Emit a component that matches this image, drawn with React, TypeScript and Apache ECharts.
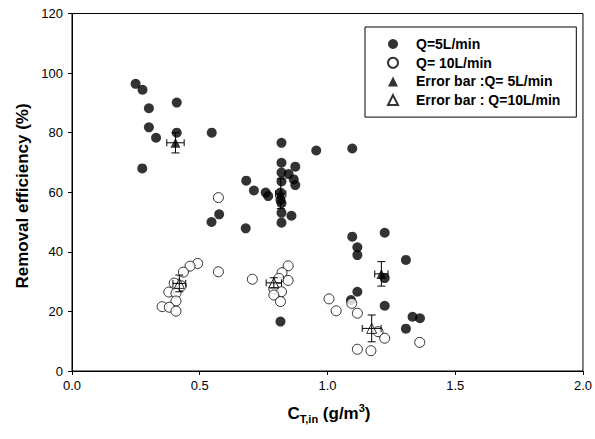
import React, { useEffect, useRef } from "react";
import * as echarts from "echarts";

// Q = 5 L/min (filled circles): [C_T,in (g/m3), removal efficiency (%)]
const q5Points: number[][] = [
  [0.249, 96.4], [0.276, 94.4], [0.301, 88.2], [0.41, 90.1], [0.301, 81.8],
  [0.41, 80.0], [0.329, 78.3], [0.547, 80.0], [0.275, 68.0], [0.682, 63.9],
  [0.576, 52.6], [0.546, 50.0], [0.68, 47.9],
  [0.82, 76.6], [0.956, 74.0], [1.097, 74.7], [0.82, 69.9], [0.874, 68.6],
  [0.82, 66.6], [0.848, 66.1], [0.868, 64.3], [0.874, 62.4], [0.82, 63.6],
  [0.712, 60.6], [0.758, 59.9], [0.768, 58.7], [0.816, 59.9], [0.816, 57.4],
  [0.82, 56.3], [0.82, 53.1], [0.859, 52.1], [0.82, 49.8],
  [1.097, 45.1], [1.117, 41.5], [1.117, 38.9], [1.224, 46.4], [0.816, 16.6],
  [1.092, 23.8], [1.117, 26.6], [1.224, 31.2], [1.224, 21.9], [1.307, 37.3],
  [1.333, 18.2], [1.362, 17.7], [1.307, 14.2],
];

// Q = 10 L/min (open circles)
const q10Points: number[][] = [
  [0.573, 58.2], [0.492, 36.1], [0.462, 35.2], [0.436, 33.2], [0.573, 33.3],
  [0.4, 29.5], [0.428, 28.6], [0.379, 26.5], [0.407, 26.1], [0.407, 23.5],
  [0.353, 21.6], [0.381, 21.4], [0.407, 20.1],
  [0.846, 35.3], [0.822, 33.0], [0.706, 30.8], [0.81, 31.1], [0.846, 30.4],
  [0.79, 27.6], [0.82, 26.6], [0.79, 25.5], [0.816, 23.3],
  [1.006, 24.2], [1.034, 20.2], [1.095, 22.7], [1.117, 19.4], [1.198, 13.2],
  [1.224, 11.0], [1.117, 7.3], [1.17, 6.8], [1.361, 9.6],
];

// Error bars: [x mean, y mean, x error, y error]
const errBar5: number[][] = [
  [0.405, 76.6, 0.034, 3.4],
  [0.817, 59.5, 0.02, 5.0],
  [1.211, 32.6, 0.026, 4.1],
];
const errBar10: number[][] = [
  [0.42, 29.4, 0.025, 2.8],
  [0.79, 29.6, 0.03, 1.7],
  [1.173, 14.3, 0.037, 4.5],
];

const xTicks = { min: 0, max: 2, interval: 0.5 };
const yTicks = { min: 0, max: 120, interval: 20 };

const legendNames = [
  "Q=5L/min",
  "Q= 10L/min",
  "Error bar :Q= 5L/min",
  "Error bar : Q=10L/min",
];

const FONT = "'Liberation Sans', Arial, sans-serif";

function errRender(params: any, api: any) {
  const x = api.value(0);
  const y = api.value(1);
  const xe = api.value(2);
  const ye = api.value(3);
  const top = api.coord([x, y + ye]);
  const bot = api.coord([x, y - ye]);
  const l = api.coord([x - xe, y]);
  const r = api.coord([x + xe, y]);
  const style = { stroke: "#000", lineWidth: 1 };
  const cw = 4;
  const ch = 3.5;
  return {
    type: "group",
    children: [
      { type: "line", shape: { x1: top[0], y1: top[1], x2: bot[0], y2: bot[1] }, style },
      { type: "line", shape: { x1: top[0] - cw, y1: top[1], x2: top[0] + cw, y2: top[1] }, style },
      { type: "line", shape: { x1: bot[0] - cw, y1: bot[1], x2: bot[0] + cw, y2: bot[1] }, style },
      { type: "line", shape: { x1: l[0], y1: l[1], x2: r[0], y2: r[1] }, style },
      { type: "line", shape: { x1: l[0], y1: l[1] - ch, x2: l[0], y2: l[1] + ch }, style },
      { type: "line", shape: { x1: r[0], y1: r[1] - ch, x2: r[0], y2: r[1] + ch }, style },
    ],
  };
}

export default function App() {
  const ref = useRef<HTMLDivElement>(null);
  useEffect(() => {
    if (!ref.current) return;
    const chart = echarts.init(ref.current, null, { renderer: "svg" });
    chart.setOption({
      animation: false,
      backgroundColor: "#fff",
      grid: {
        left: 72,
        right: 10,
        top: 13.5,
        bottom: 68,
        show: true,
        borderColor: "#000",
        borderWidth: 1,
      },
      xAxis: {
        type: "value",
        min: xTicks.min,
        max: xTicks.max,
        interval: xTicks.interval,
        splitLine: { show: false },
        axisLine: { show: true, onZero: false, lineStyle: { color: "#000", width: 1 } },
        axisTick: { show: true, inside: false, length: 4, lineStyle: { color: "#000" } },
        axisLabel: {
          color: "#000",
          fontSize: 13,
          fontFamily: FONT,
          margin: 8,
          formatter: (v: number) => v.toFixed(1),
        },
      },
      yAxis: {
        type: "value",
        min: yTicks.min,
        max: yTicks.max,
        interval: yTicks.interval,
        splitLine: { show: false },
        axisLine: { show: true, onZero: false, lineStyle: { color: "#000", width: 1 } },
        axisTick: { show: true, inside: false, length: 4, lineStyle: { color: "#000" } },
        axisLabel: { color: "#000", fontSize: 13, fontFamily: FONT, margin: 9 },
      },
      legend: {
        orient: "vertical",
        left: 365,
        top: 27,
        padding: [10, 16, 10, 22],
        itemGap: 4.7,
        itemWidth: 10,
        itemHeight: 10,
        borderColor: "#000",
        borderWidth: 1,
        backgroundColor: "#fff",
        selectedMode: false,
        textStyle: {
          color: "#000",
          fontSize: 14,
          fontWeight: "bold",
          fontFamily: FONT,
          lineHeight: 14,
          padding: [0, 0, 0, 13],
        },
        data: legendNames,
      },
      graphic: [
        {
          type: "text",
          x: 22,
          y: 196,
          rotation: Math.PI / 2,
          style: {
            text: "Removal efficiency (%)",
            fontSize: 17,
            fontWeight: "bold",
            fontFamily: FONT,
            fill: "#000",
            align: "center",
            verticalAlign: "middle",
          },
        },
        {
          type: "text",
          x: 329,
          y: 413,
          style: {
            text: "{b|C}{s|T,in}{b| (g/m}{p|3}{b|)}",
            align: "center",
            verticalAlign: "middle",
            fill: "#000",
            rich: {
              b: { fontSize: 17, fontWeight: "bold", fontFamily: FONT, lineHeight: 22, fill: "#000" },
              s: { fontSize: 11, fontWeight: "bold", fontFamily: FONT, lineHeight: 11, verticalAlign: "bottom", fill: "#000" },
              p: { fontSize: 11, fontWeight: "bold", fontFamily: FONT, lineHeight: 11, verticalAlign: "top", fill: "#000" },
            },
          },
        },
      ],
      series: [
        {
          name: legendNames[0],
          type: "scatter",
          symbol: "circle",
          symbolSize: 10,
          itemStyle: { color: "#000" },
          data: q5Points,
          z: 3,
        },
        {
          name: legendNames[1],
          type: "scatter",
          symbol: "circle",
          symbolSize: 10,
          itemStyle: { color: "#fff", borderColor: "#000", borderWidth: 1 },
          data: q10Points,
          z: 3,
        },
        {
          name: legendNames[2],
          type: "scatter",
          symbol: "triangle",
          symbolSize: 10,
          itemStyle: { color: "#000" },
          data: errBar5.map((d) => [d[0], d[1]]),
          z: 4,
        },
        {
          name: legendNames[3],
          type: "scatter",
          symbol: "triangle",
          symbolSize: 10,
          itemStyle: { color: "#fff", borderColor: "#000", borderWidth: 1 },
          data: errBar10.map((d) => [d[0], d[1]]),
          z: 4,
        },
        {
          name: "err5",
          type: "custom",
          renderItem: errRender,
          encode: { x: 0, y: 1 },
          data: errBar5,
          z: 5,
        },
        {
          name: "err10",
          type: "custom",
          renderItem: errRender,
          encode: { x: 0, y: 1 },
          data: errBar10,
          z: 5,
        },
      ],
    });
    return () => chart.dispose();
  }, []);
  return <div ref={ref} style={{ width: 595, height: 439, position: "absolute", left: 0, top: 0 }} />;
}
